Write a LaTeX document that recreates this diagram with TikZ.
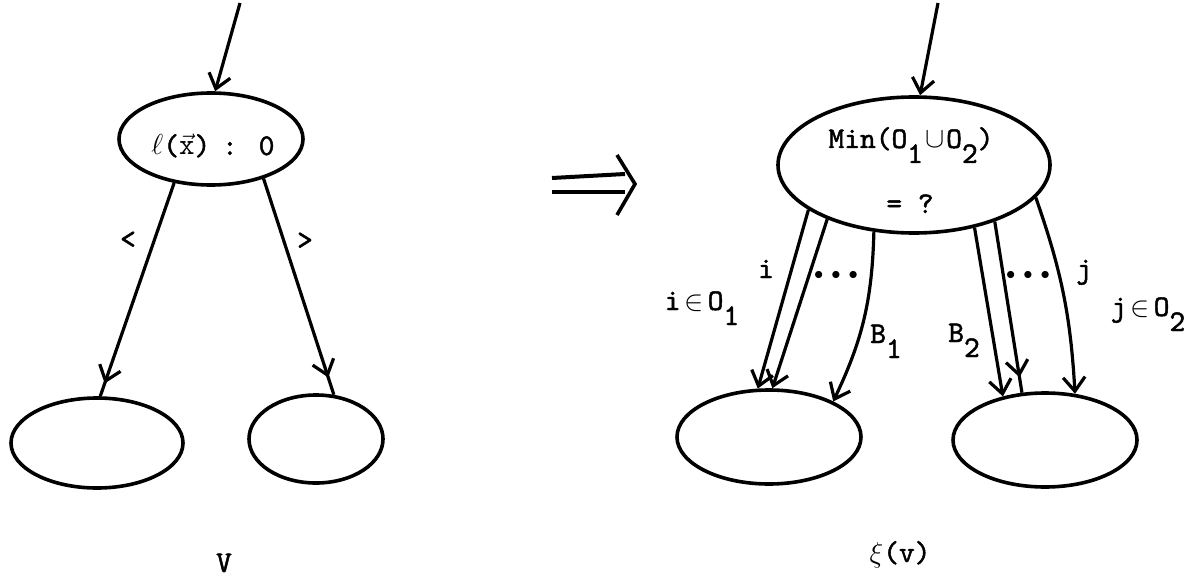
\documentclass[tikz,border=0pt]{standalone}
\usepackage{fontspec}
\newfontfamily\tw{lmmono10-regular.otf}[FakeBold=1.6]
\usetikzlibrary{shapes.geometric,arrows.meta,decorations.markings}
\newcommand{\lowsub}[1]{\raisebox{-7.5pt}{#1}}
\newcommand{\tdots}{{\fontsize{9}{9}\selectfont$\bullet$\hspace{4pt}$\bullet$\hspace{4pt}$\bullet$}}
\begin{document}
\begin{tikzpicture}[x=0.5pt,y=-0.5pt,
  line width=1.6pt,
  blob/.style={draw,ellipse,inner sep=0pt,line width=1.8pt},
  lbl/.style={font=\fontsize{15}{17}\tw,inner sep=0pt,anchor=base},
  lblc/.style={font=\fontsize{15}{17}\tw,inner sep=0pt,anchor=center},
  arr/.style={-{Straight Barb[length=7pt,width=11pt]}},
  headat/.style={postaction={decorate},decoration={markings,mark=at position #1 with {\arrow{Straight Barb[length=7pt,width=11pt]}}}}]
\useasboundingbox (0,0) rectangle (1199,583);
% left tree
\node[blob,minimum width=92pt,minimum height=46pt] (T1) at (211,139) {};
\node[blob,minimum width=86pt,minimum height=45pt] (L1) at (97,443) {};
\node[blob,minimum width=67pt,minimum height=44pt] (L2) at (316,439) {};
\coordinate (s1) at (240,3);
\draw[arr] (s1) -- (T1.85);
\draw[headat=0.94] (T1.-130) -- (L1.86);
\draw[headat=0.92] (T1.-37) -- (L2.68);
\node[lbl] (tA) at (213,155) {$\ell$(\(\vec{\mathtt{x}}\))\hspace{-2pt} : 0};
\node[lblc] (tlt) at (128,240) {<};
\node[lblc] (tgt) at (305,241) {>};
\node[lbl] (tV) at (224,572) {V};
% implication arrow
\draw[line width=2pt] (552,178) -- (625,174);
\draw[line width=2.4pt] (552,192) -- (625,192);
\draw[line width=1.8pt] (617,155) -- (635,184) -- (617,215);
% right tree
\node[blob,minimum width=136pt,minimum height=68pt] (T2) at (914,165) {};
\node[blob,minimum width=92pt,minimum height=47pt] (B1) at (769,437) {};
\node[blob,minimum width=92pt,minimum height=47pt] (B2) at (1045,440) {};
\coordinate (s2) at (938,3);
\draw[arr] (s2) -- (T2.85);
\draw[arr] (T2.-157) -- (B1.103);
\draw[arr] (T2.-148) -- (B1.86);
\draw[arr] (T2.-121) to[bend left=12] (B1.29);
\draw[arr] (T2.-46) -- (B2.134);
\draw[headat=0.91] (T2.-35) -- (B2.116);
\draw[arr] (T2.-15) to[bend left=8] (B2.57);
\node[lbl] (tM) at (911,148) {Min(O\lowsub{1}\hspace{1pt}$\cup$\hspace{1pt}O\lowsub{2})};
\node[lbl] (tQ) at (910,213) {= ?};
\node[lbl] (ti) at (766,278) {i};
\node[lbl] (tiO) at (702,310) {i\hspace{2pt}$\in$\hspace{2pt}O\lowsub{1}};
\node[lblc] (td1) at (836,275) {\tdots};
\node[lbl] (tB1) at (886,343) {B\lowsub{1}};
\node[lbl] (tB2) at (964,342) {B\lowsub{2}};
\node[lblc] (td2) at (1028,275) {\tdots};
\node[lbl] (tj) at (1084,278) {j};
\node[lbl] (tjO) at (1148,316) {j\hspace{2pt}$\in$\hspace{2pt}O\lowsub{2}};
\node[lbl] (txi) at (900,562) {$\xi$(v)};
\end{tikzpicture}
\end{document}
